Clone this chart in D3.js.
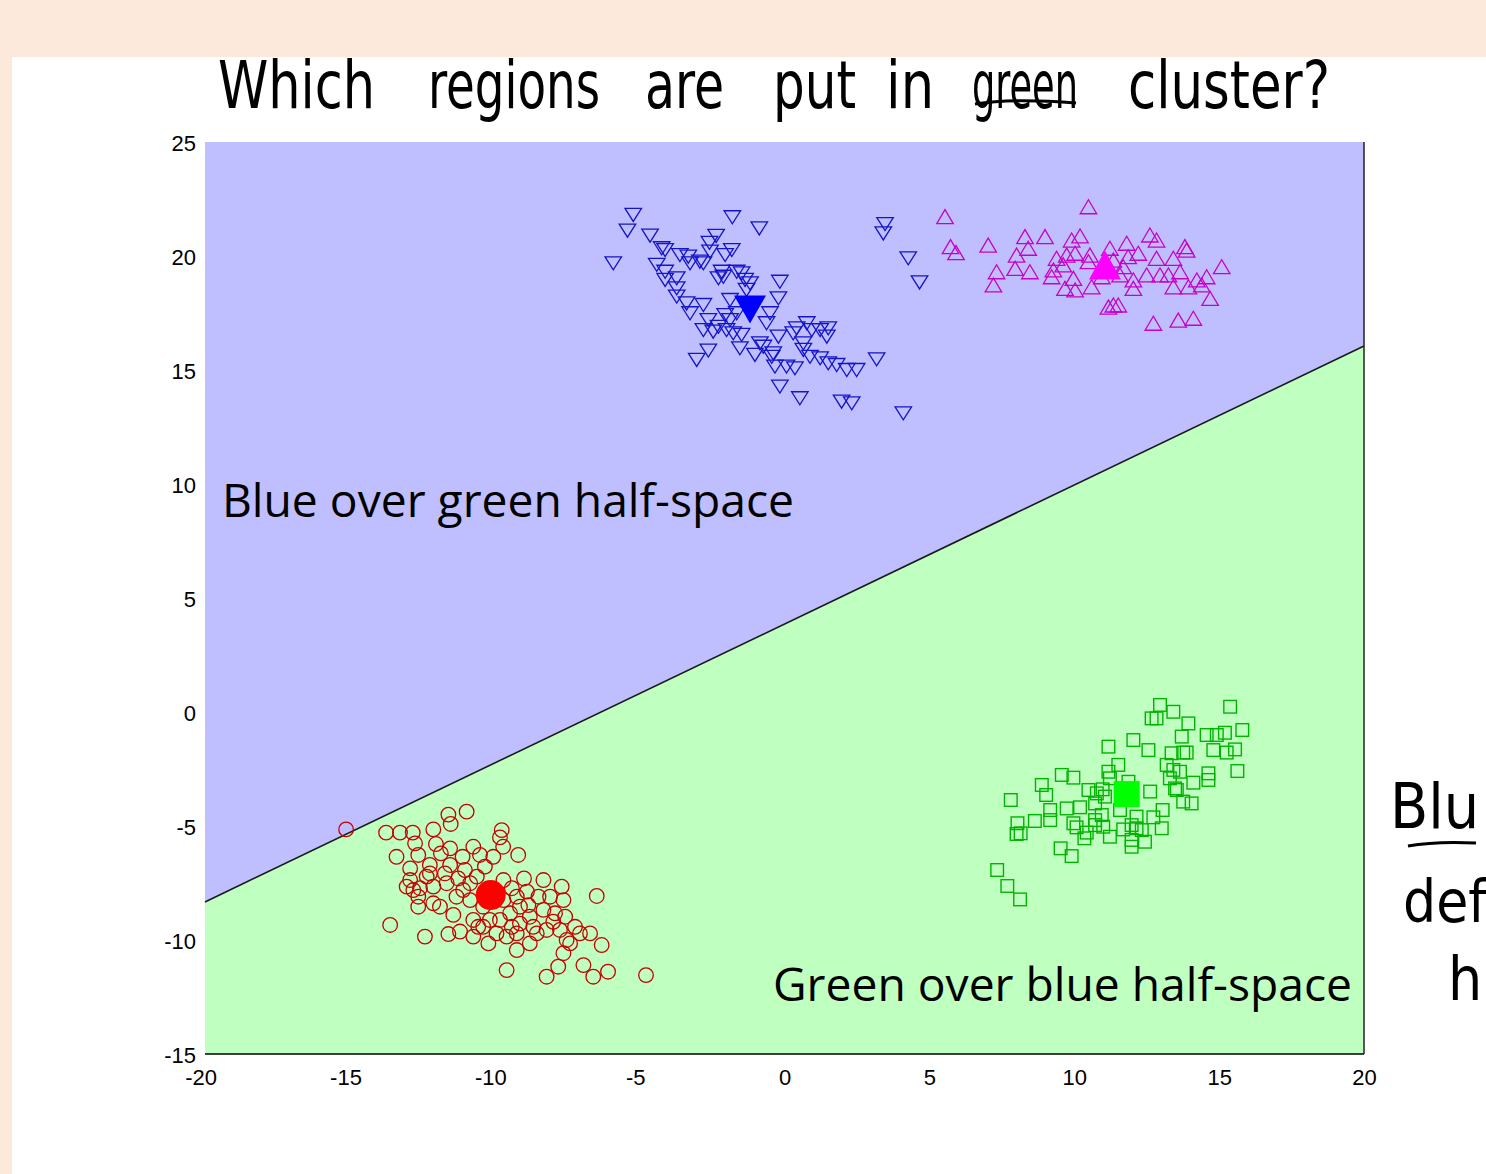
<!DOCTYPE html>
<html><head><meta charset="utf-8">
<script src="https://cdn.jsdelivr.net/npm/d3@7"></script>
<style>html,body{margin:0;padding:0;background:#fff;}svg{display:block;}</style>
</head><body>
<svg id="chart" width="1486" height="1174"></svg>
<script>
// ---------------- DATA ----------------
const xTicks = [-20, -15, -10, -5, 0, 5, 10, 15, 20];
const yTicks = [-15, -10, -5, 0, 5, 10, 15, 20, 25];
const boundaryX = [-20, 20];
const boundaryY = [-8.33, 16.05];

const bluePoints = [[-5.22,21.80],[-5.42,21.11],[-1.80,21.70],[-0.87,21.21],[-5.91,19.68],[-4.64,20.89],[-2.36,20.88],[-2.59,20.58],[3.47,21.40],[3.41,20.99],[4.27,19.90],[4.66,18.84],[-4.24,20.34],[-4.12,20.26],[-3.61,20.04],[-3.32,19.97],[-2.92,19.75],[-2.57,20.19],[-1.82,20.26],[-2.05,20.04],[-4.41,19.61],[-4.12,19.31],[-4.12,18.95],[-3.72,19.02],[-3.26,19.68],[-2.80,19.68],[-2.28,19.02],[-2.11,19.09],[-1.48,19.24],[-1.36,18.95],[-1.19,18.80],[-3.72,18.58],[-3.72,18.22],[-3.38,17.92],[-2.80,17.85],[-3.26,17.49],[-2.63,17.19],[-2.80,16.75],[-2.46,16.68],[-2.05,17.41],[-2.00,16.75],[-1.77,16.61],[-1.48,16.54],[-1.65,17.49],[-0.16,18.87],[-0.21,18.14],[-0.50,17.49],[-0.62,17.05],[-0.21,16.46],[-0.85,16.17],[-0.39,15.73],[-0.33,15.15],[-1.02,15.66],[-2.63,15.85],[-3.03,15.44],[-1.54,15.95],[0.07,15.15],[0.36,15.07],[0.42,16.83],[0.77,17.05],[0.94,16.75],[1.23,16.75],[1.46,16.46],[1.51,16.83],[0.65,15.88],[0.88,15.58],[1.23,15.51],[1.51,15.29],[1.80,15.22],[2.15,15.00],[2.49,15.00],[3.18,15.47],[-0.16,14.27],[0.53,13.76],[1.97,13.61],[2.32,13.54],[4.10,13.10],[0.30,16.61],[0.65,16.17],[-1.88,18.07],[-2.17,19.31],[-1.65,19.31],[-1.31,18.51],[-1.88,17.19],[-2.28,16.89],[-0.73,16.02],[-0.44,15.58]];
const blueCenter = [-1.19, 17.65];

const magentaPoints = [[5.54,21.73],[10.49,22.16],[5.73,20.41],[5.92,20.15],[7.03,20.48],[8.30,20.85],[8.99,20.85],[10.20,20.88],[9.91,20.70],[8.41,20.34],[8.01,20.04],[7.32,19.31],[7.21,18.73],[7.96,19.46],[8.47,19.31],[9.28,19.39],[9.39,19.90],[9.74,20.04],[10.03,20.12],[10.54,20.04],[9.62,19.61],[9.97,19.02],[9.68,18.58],[10.03,18.51],[10.60,18.65],[11.23,20.34],[11.35,19.82],[11.81,20.56],[11.86,19.97],[12.21,20.12],[12.61,20.92],[12.84,20.70],[11.69,19.53],[12.04,18.95],[12.04,18.58],[12.50,19.17],[12.84,19.90],[12.96,19.17],[13.25,19.17],[13.42,19.90],[13.65,19.31],[13.82,20.41],[13.88,20.26],[13.42,18.65],[13.94,18.65],[14.23,18.95],[14.40,18.73],[14.57,19.09],[14.69,18.14],[15.09,19.53],[11.35,17.85],[11.52,17.85],[11.18,17.76],[12.73,17.05],[13.59,17.19],[14.11,17.27],[9.22,19.09],[10.49,19.75],[11.58,19.17],[10.95,19.09]];
const magentaCenter = [11.06, 19.61];

const greenPoints = [[12.96,0.31],[13.42,0.01],[12.67,-0.28],[12.84,-0.28],[13.94,-0.50],[15.38,0.23],[13.71,-1.08],[14.57,-1.01],[14.92,-1.01],[15.20,-0.91],[15.80,-0.79],[15.55,-1.64],[15.26,-1.78],[14.80,-1.67],[15.63,-2.59],[14.63,-2.69],[14.63,-2.98],[12.04,-1.23],[12.56,-1.67],[11.18,-1.52],[13.36,-1.81],[13.76,-1.78],[13.88,-1.78],[13.19,-2.32],[13.42,-2.54],[13.30,-2.91],[13.65,-2.62],[14.11,-3.10],[13.48,-3.35],[13.54,-3.42],[13.76,-3.93],[14.05,-4.01],[12.62,-3.49],[13.05,-4.30],[12.73,-4.62],[13.02,-5.10],[9.57,-2.76],[9.97,-2.88],[8.88,-3.20],[9.03,-3.64],[7.81,-3.86],[9.17,-4.30],[9.17,-4.74],[8.64,-4.78],[8.04,-4.88],[8.01,-5.35],[8.15,-5.32],[9.74,-4.23],[10.20,-4.18],[9.97,-4.88],[10.08,-5.06],[10.43,-5.29],[10.35,-5.54],[10.49,-3.42],[10.72,-4.01],[10.78,-3.57],[10.98,-3.39],[11.06,-3.71],[10.95,-4.52],[10.72,-4.74],[10.72,-4.96],[11.00,-5.03],[11.23,-5.47],[11.18,-2.62],[11.52,-2.32],[11.23,-2.91],[11.87,-3.06],[11.58,-4.30],[12.15,-4.59],[11.98,-4.96],[12.15,-5.10],[12.33,-5.18],[12.44,-5.69],[11.98,-5.61],[11.98,-5.91],[11.69,-5.15],[9.53,-5.98],[9.91,-6.32],[7.34,-6.93],[7.69,-7.63],[8.13,-8.22]];
const greenCenter = [11.81, -3.60];

const redPoints = [[-15.13,-5.15],[-10.97,-4.37],[-11.60,-4.50],[-11.52,-4.91],[-13.75,-5.29],[-13.27,-5.29],[-12.83,-5.29],[-12.12,-5.15],[-12.75,-5.76],[-12.03,-5.79],[-9.76,-5.18],[-9.82,-5.50],[-9.71,-5.91],[-9.19,-6.27],[-13.39,-6.35],[-10.74,-5.91],[-11.54,-5.98],[-10.51,-6.27],[-12.64,-6.27],[-11.86,-6.20],[-11.11,-6.35],[-12.92,-6.86],[-12.24,-6.71],[-11.54,-6.71],[-11.03,-6.93],[-10.34,-6.78],[-12.92,-7.37],[-12.58,-7.73],[-12.12,-7.66],[-11.66,-7.51],[-11.26,-7.30],[-10.85,-7.51],[-12.64,-8.10],[-12.12,-8.39],[-12.64,-8.54],[-11.89,-8.54],[-11.43,-8.90],[-10.85,-8.25],[-10.74,-9.12],[-13.61,-9.34],[-12.41,-9.85],[-11.60,-9.74],[-11.20,-9.63],[-10.74,-9.85],[-10.40,-9.42],[-10.22,-10.15],[-9.94,-9.71],[-9.82,-9.12],[-9.47,-8.83],[-9.41,-9.42],[-9.13,-9.28],[-9.24,-9.71],[-8.99,-7.30],[-9.41,-7.73],[-9.24,-8.10],[-8.89,-7.88],[-8.84,-8.47],[-8.32,-7.37],[-8.49,-8.10],[-8.09,-8.10],[-7.69,-7.66],[-7.63,-8.25],[-8.32,-8.68],[-7.92,-8.83],[-7.57,-8.98],[-6.48,-8.07],[-8.67,-9.42],[-8.21,-9.56],[-7.75,-9.56],[-7.23,-9.42],[-7.06,-9.71],[-6.71,-9.71],[-7.52,-10.00],[-7.40,-10.15],[-6.31,-10.22],[-8.79,-10.15],[-9.24,-10.44],[-7.63,-10.58],[-9.59,-11.32],[-7.81,-11.17],[-8.21,-11.61],[-6.94,-11.10],[-6.60,-11.61],[-6.09,-11.39],[-4.78,-11.54],[-12.81,-7.81],[-13.04,-7.66],[-12.35,-7.22],[-10.62,-7.22],[-10.28,-7.81],[-11.32,-8.10],[-11.09,-7.81],[-9.70,-8.25],[-10.40,-8.54],[-10.17,-9.12],[-9.70,-7.37],[-12.24,-7.08],[-11.72,-7.08],[-10.05,-6.35],[-8.79,-8.98],[-8.55,-9.71],[-7.98,-9.20],[-9.13,-8.54],[-10.57,-9.42],[-9.59,-9.85]];
const redCenter = [-10.14, -8.03];

const titleWords = ["Which", "regions", "are", "put", "in", "green", "cluster?"];
const sideNote = ["Blu", "def", "h"];

// ---------------- LAYOUT ----------------
const svg = d3.select("#chart");
const W = 1486, H = 1174;
const plot = {left: 205, right: 1364, top: 142, bottom: 1054};
const x = d3.scaleLinear().domain([-20, 20]).range([plot.left, plot.right]);
const y = d3.scaleLinear().domain([-15, 25]).range([plot.bottom, plot.top]);

// slide background
svg.append("rect").attr("width", W).attr("height", H).attr("fill", "#fde9db");
svg.append("rect").attr("x", 12).attr("y", 57).attr("width", W - 12).attr("height", H - 57).attr("fill", "#ffffff");

// regions
const poly = d3.line().x(d => x(d[0])).y(d => y(d[1]));
svg.append("path")
  .attr("d", poly([[-20, 25], [20, 25], [boundaryX[1], boundaryY[1]], [boundaryX[0], boundaryY[0]]]) + "Z")
  .attr("fill", "#bfbfff");
svg.append("path")
  .attr("d", poly([[boundaryX[0], boundaryY[0]], [boundaryX[1], boundaryY[1]], [20, -15], [-20, -15]]) + "Z")
  .attr("fill", "#bfffbf");
svg.append("path")
  .attr("d", poly(boundaryX.map((v, i) => [v, boundaryY[i]])))
  .attr("fill", "none").attr("stroke", "#1a1a1a").attr("stroke-width", 1.6);

// frame (bottom & right)
svg.append("line").attr("x1", plot.left).attr("x2", plot.right).attr("y1", plot.bottom).attr("y2", plot.bottom)
  .attr("stroke", "#000").attr("stroke-width", 1.5);
svg.append("line").attr("x1", plot.right).attr("x2", plot.right).attr("y1", plot.top).attr("y2", plot.bottom)
  .attr("stroke", "#222").attr("stroke-width", 1.5);

// axes tick labels (plain hyphen minus, as in the reference)
const fmt = d => String(d);
const xAxis = d3.axisBottom(x).tickValues(xTicks).tickFormat(fmt).tickSize(0).tickPadding(15);
const gx = svg.append("g").attr("transform", `translate(0,${plot.bottom})`).call(xAxis);
gx.select(".domain").remove();
gx.selectAll("text").attr("font-family", "'Liberation Sans', Arial, sans-serif").attr("font-size", 22).attr("fill", "#000")
  .attr("dx", d => d < 0 ? "-0.2em" : 0);
const yAxis = d3.axisLeft(y).tickValues(yTicks).tickFormat(fmt).tickSize(0).tickPadding(9);
const gy = svg.append("g").attr("transform", `translate(${plot.left},0)`).call(yAxis);
gy.select(".domain").remove();
gy.selectAll("text").attr("font-family", "'Liberation Sans', Arial, sans-serif").attr("font-size", 22).attr("fill", "#000")
  .attr("dy", "0.38em");

// markers
const g = svg.append("g");
const downTri = (w, h) => `M${-w/2},${-h/2}L${w/2},${-h/2}L0,${h/2}Z`;
const upTri = (w, h) => `M${-w/2},${h/2}L${w/2},${h/2}L0,${-h/2}Z`;

g.selectAll(".red").data(redPoints).join("circle")
  .attr("cx", d => x(d[0])).attr("cy", d => y(d[1])).attr("r", 7.3)
  .attr("fill", "none").attr("stroke", "#c80000").attr("stroke-width", 1.3);
g.selectAll(".grn").data(greenPoints).join("rect")
  .attr("x", d => x(d[0]) - 6.3).attr("y", d => y(d[1]) - 6.3).attr("width", 12.6).attr("height", 12.6)
  .attr("fill", "none").attr("stroke", "#00b400").attr("stroke-width", 1.4);
g.selectAll(".blu").data(bluePoints).join("path")
  .attr("transform", d => `translate(${x(d[0])},${y(d[1])})`).attr("d", downTri(16.5, 13))
  .attr("fill", "none").attr("stroke", "#1414c8").attr("stroke-width", 1.3);
g.selectAll(".mag").data(magentaPoints).join("path")
  .attr("transform", d => `translate(${x(d[0])},${y(d[1])})`).attr("d", upTri(16.5, 14))
  .attr("fill", "none").attr("stroke", "#c800c8").attr("stroke-width", 1.3);

// centroids
g.append("circle").attr("cx", x(redCenter[0])).attr("cy", y(redCenter[1])).attr("r", 15).attr("fill", "#ff0000");
g.append("rect").attr("x", x(greenCenter[0]) - 13).attr("y", y(greenCenter[1]) - 13).attr("width", 26).attr("height", 26).attr("fill", "#00ff00");
g.append("path").attr("transform", `translate(${x(blueCenter[0])},${y(blueCenter[1])})`).attr("d", downTri(32, 28)).attr("fill", "#0000ff");
g.append("path").attr("transform", `translate(${x(magentaCenter[0])},${y(magentaCenter[1])})`).attr("d", upTri(32, 29)).attr("fill", "#ff00ff");

// region labels
const labFont = "'Open Sans', Lato, sans-serif";
svg.append("text").attr("x", 222).attr("y", 517).attr("font-family", labFont).attr("font-size", 46)
  .attr("textLength", 572).attr("lengthAdjust", "spacingAndGlyphs").attr("fill", "#000").text("Blue over green half-space");
svg.append("text").attr("x", 773).attr("y", 1001).attr("font-family", labFont).attr("font-size", 46)
  .attr("textLength", 579).attr("lengthAdjust", "spacingAndGlyphs").attr("fill", "#000").text("Green over blue half-space");

// handwritten title
const hand = "'DejaVu Sans Condensed', 'DejaVu Sans', sans-serif";
const wordStart = [218, 428, 645, 773, 886, 972, 1128];
const wordEnd = [375, 600, 724, 856, 934, 1078, 1330];
titleWords.forEach((w, i) => {
  svg.append("text").attr("x", wordStart[i]).attr("y", 108).attr("font-family", hand).attr("font-size", 66)
    .attr("font-weight", 300).attr("textLength", wordEnd[i] - wordStart[i]).attr("lengthAdjust", "spacingAndGlyphs")
    .attr("fill", "#000").text(w);
});
svg.append("path").attr("d", "M975,104 C1000,100 1040,100 1076,103").attr("fill", "none").attr("stroke", "#000").attr("stroke-width", 3);

// side note (kept inside the page)
const noteX = [1390, 1403, 1448];
const noteY = [828, 922, 1000];
const noteSize = [62, 58, 60];
sideNote.forEach((t, i) => {
  svg.append("text").attr("x", noteX[i]).attr("y", noteY[i]).attr("font-family", hand).attr("font-size", noteSize[i])
    .attr("fill", "#000").text(t);
});
svg.append("path").attr("d", "M1408,846 C1430,842 1455,842 1476,843").attr("fill", "none").attr("stroke", "#000").attr("stroke-width", 3);
</script>
</body></html>
